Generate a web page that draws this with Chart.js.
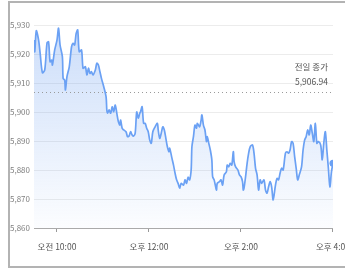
<!DOCTYPE html>
<html>
<head>
<meta charset="utf-8">
<script src="https://cdn.jsdelivr.net/npm/chart.js@4"></script>
<style>
  html, body { margin: 0; padding: 0; background: #fff; overflow: hidden; }
  body { width: 345px; height: 272px; position: relative; }
  .frame {
    position: absolute; left: 8px; top: 1px; width: 360px; height: 267px;
    border: 2px solid #b3b3b3; box-sizing: border-box;
  }
  .wrap { position: absolute; left: 0; top: 0; width: 360px; height: 272px; }
</style>
</head>
<body>
<div class="frame"></div>
<div class="wrap"><canvas id="chart"></canvas></div>
<script>
// minutes after 9:30 (ET) and index level
const minutes = [0, 1, 3, 6, 8, 11, 14, 17, 19, 21, 23, 24, 27, 30, 32, 34, 37, 38, 40, 41,
  43, 46, 49, 51, 53, 55, 57, 59, 62, 64, 67, 69, 71, 73, 75, 77, 80, 82, 84, 86,
  88, 91, 94, 95, 96, 98, 100, 102, 104, 106, 108, 110, 112, 113, 115, 117, 120, 122, 124, 126,
  128, 130, 132, 134, 136, 138, 139, 141, 143, 145, 147, 149, 151, 153, 155, 158, 161, 162, 164, 166,
  168, 170, 172, 174, 176, 177, 180, 182, 184, 186, 188, 190, 192, 195, 197, 199, 201, 203, 205, 206,
  208, 210, 212, 213, 216, 218, 219, 221, 223, 225, 226, 228, 230, 232, 233, 235, 238, 239, 242, 244,
  246, 248, 251, 252, 254, 256, 258, 260, 261, 263, 266, 268, 270, 272, 273, 274, 276, 278, 280, 282,
  285, 287, 289, 291, 293, 295, 297, 300, 302, 304, 306, 308, 310, 312, 315, 317, 319, 321, 323, 325,
  328, 330, 332, 334, 336, 338, 340, 342, 344, 346, 349, 351, 353, 355, 357, 359, 361, 363, 365, 367,
  369, 371, 374, 376, 378, 380, 382, 384, 386, 388, 390];
const prices = [5924.8, 5920.8, 5928.0, 5924.8, 5920.3, 5913.5, 5914.5, 5923.8, 5924.2, 5917.3,
  5917.9, 5916.2, 5921.4, 5924.8, 5928.9, 5923.1, 5919.1, 5911.6, 5911.0, 5907.6,
  5912.2, 5915.6, 5922.5, 5923.7, 5923.1, 5927.1, 5928.3, 5920.8, 5921.4, 5915.1,
  5915.6, 5912.8, 5915.1, 5913.3, 5913.9, 5912.8, 5914.5, 5916.8, 5916.2, 5913.9,
  5911.6, 5908.7, 5905.3, 5900.7, 5899.6, 5900.7, 5899.6, 5901.8, 5900.1, 5902.4,
  5899.6, 5896.7, 5895.5, 5897.2, 5894.4, 5893.8, 5893.2, 5891.5, 5891.7, 5893.2,
  5892.1, 5891.7, 5892.7, 5900.0, 5897.9, 5899.6, 5900.1, 5901.8, 5896.1, 5896.1,
  5894.4, 5893.2, 5890.3, 5889.2, 5893.2, 5894.9, 5896.1, 5893.8, 5890.9, 5892.7,
  5894.9, 5893.8, 5890.9, 5888.0, 5886.3, 5887.5, 5884.0, 5881.7, 5878.9, 5876.6,
  5875.4, 5873.7, 5875.4, 5874.8, 5876.6, 5875.4, 5877.5, 5876.6, 5880.0, 5888.0,
  5891.5, 5895.5, 5894.4, 5896.1, 5894.9, 5897.2, 5899.0, 5895.5, 5893.8, 5889.8,
  5891.5, 5889.2, 5886.9, 5883.5, 5877.7, 5876.6, 5873.1, 5875.4, 5876.0, 5876.6,
  5874.8, 5878.3, 5879.4, 5881.7, 5881.1, 5882.3, 5881.7, 5886.3, 5882.9, 5881.1,
  5880.0, 5878.3, 5877.7, 5876.0, 5873.1, 5873.8, 5877.7, 5882.3, 5885.8, 5888.0,
  5888.6, 5885.8, 5880.6, 5878.3, 5873.1, 5876.6, 5875.4, 5876.6, 5873.1, 5872.0,
  5874.2, 5876.0, 5874.2, 5869.7, 5874.8, 5877.1, 5876.6, 5878.9, 5880.6, 5880.0,
  5885.8, 5886.3, 5885.8, 5886.9, 5889.8, 5889.2, 5884.6, 5880.6, 5876.6, 5878.3,
  5881.1, 5886.9, 5890.3, 5891.5, 5893.8, 5892.1, 5895.5, 5892.7, 5889.8, 5896.1,
  5889.2, 5889.8, 5888.6, 5883.5, 5889.2, 5893.2, 5886.9, 5880.6, 5874.2, 5879.4,
  5882.3];
const prevClose = 5906.94;
const prevCloseLabel = '전일 종가';
const tickMinutes = [30, 150, 270, 390];
const tickLabels = ['오전 10:00', '오후 12:00', '오후 2:00', '오후 4:00'];
const yTicks = [5860, 5870, 5880, 5890, 5900, 5910, 5920, 5930];

const FONT = "'Liberation Sans Narrow', 'Noto Sans CJK KR', sans-serif";
const LINE = '#6ba1f4';

const prevClosePlugin = {
  id: 'prevClose',
  afterDatasetsDraw(chart) {
    const { ctx, chartArea, scales } = chart;
    const y = Math.round(scales.y.getPixelForValue(prevClose)) + 0.5;
    ctx.save();
    ctx.strokeStyle = '#9a9a9a';
    ctx.lineWidth = 1;
    ctx.setLineDash([1, 3]);
    ctx.beginPath();
    ctx.moveTo(chartArea.left, y);
    ctx.lineTo(chartArea.right - 1, y);
    ctx.stroke();
    ctx.setLineDash([]);
    ctx.fillStyle = '#555';
    ctx.font = '8.5px ' + FONT;
    ctx.textAlign = 'right';
    ctx.textBaseline = 'middle';
    const x = chartArea.right - 5;
    ctx.fillText(prevCloseLabel, x, y - 26);
    ctx.fillText(prevClose.toLocaleString('en-US', { minimumFractionDigits: 2 }), x, y - 11);
    ctx.restore();
  }
};

const ctx = document.getElementById('chart').getContext('2d');
new Chart(ctx, {
  type: 'line',
  data: {
    datasets: [{
      data: minutes.map((m, i) => ({ x: m, y: prices[i] })),
      borderColor: LINE,
      borderWidth: 1.7,
      tension: 0.3,
      fill: 'start',
      backgroundColor(c) {
        const area = c.chart.chartArea;
        if (!area) return 'rgba(95,150,239,0.2)';
        const g = c.chart.ctx.createLinearGradient(0, area.top, 0, area.bottom);
        g.addColorStop(0, 'rgba(95,150,239,0.32)');
        g.addColorStop(1, 'rgba(95,150,239,0.02)');
        return g;
      },
      pointRadius: (c) => (c.dataIndex === prices.length - 1 ? 3.5 : 0),
      pointBackgroundColor: LINE,
      pointBorderWidth: 0
    }]
  },
  options: {
    responsive: true,
    maintainAspectRatio: false,
    animation: false,
    layout: { padding: { left: 0, top: 25, right: 23, bottom: 0 } },
    plugins: { legend: { display: false }, tooltip: { enabled: false } },
    scales: {
      x: {
        type: 'linear',
        min: 0,
        max: 390,
        afterBuildTicks(scale) { scale.ticks = tickMinutes.map((v) => ({ value: v })); },
        afterFit(scale) { scale.height = 44; },
        ticks: {
          autoSkip: false,
          maxRotation: 0,
          padding: 10,
          color: '#555',
          font: { family: FONT, size: 8.5 },
          callback: (v) => tickLabels[tickMinutes.indexOf(v)]
        },
        grid: { drawOnChartArea: false, drawTicks: true, tickLength: 4, color: '#999' },
        border: { display: true, color: '#aaa' }
      },
      y: {
        min: 5860,
        max: 5930,
        afterBuildTicks(scale) { scale.ticks = yTicks.map((v) => ({ value: v })); },
        afterFit(scale) { scale.width = 34; },
        ticks: {
          padding: 4,
          color: '#808080',
          font: { family: FONT, size: 8 },
          callback: (v) => v.toLocaleString('en-US')
        },
        grid: { drawTicks: false, color: '#ececec' },
        border: { display: false }
      }
    }
  },
  plugins: [prevClosePlugin]
});
</script>
</body>
</html>
